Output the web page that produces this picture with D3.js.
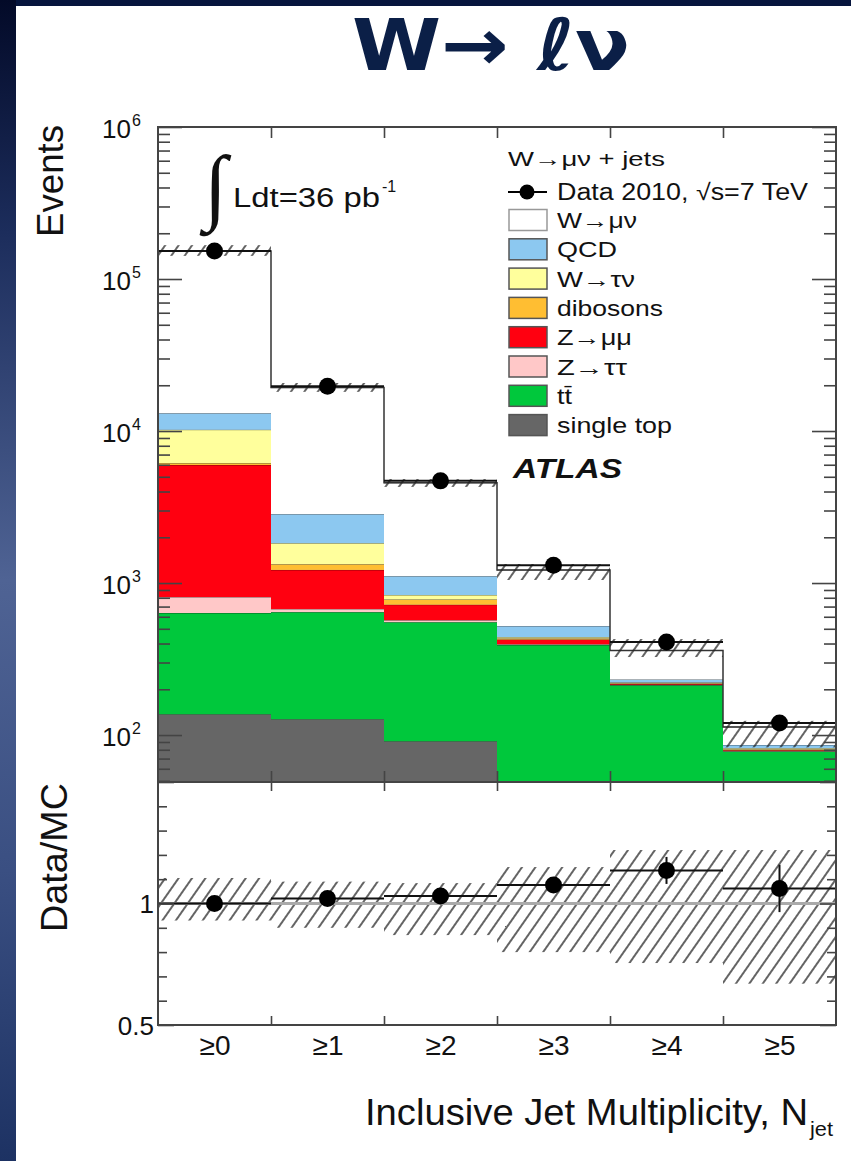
<!DOCTYPE html>
<html><head><meta charset="utf-8">
<script src="https://cdn.jsdelivr.net/npm/d3@7"></script>
<style>
body{margin:0;background:#fff;}
svg{display:block;}
text{font-family:"Liberation Sans",Arial,Helvetica,sans-serif;fill:#111;}
</style>
</head><body>
<svg id="c" width="851" height="1161"></svg>
<script>
// ---------------- data ----------------
const categories = ["≥0","≥1","≥2","≥3","≥4","≥5"];
const seriesKeys = ["singleTop","ttbar","zTauTau","zMuMu","dibosons","wTauNu","qcd","wMuNu"];
const singleTop = [137,127,91,40,20,8];
const ttbar     = [498,517,462,351,193,70];
const zTauTau   = [174,31,17,5,1,0.5];
const zMuMu     = [5171,545,150,29,3,1];
const dibosons  = [170,110,60,7,2,1];
const wTauNu    = [4050,500,54,9,3,1.5];
const qcd       = [2900,1010,276,80,10,4];
const wMuNu     = [139900,16460,3450,696,128,27];
const dataValues = [153000,19700,4700,1310,409,120];
const dataErrors = [390,140,69,36,20,11];
const bandUpLo = [142000,18100,4290,1047,326,83];
const bandUpHi = [167000,20700,4830,1334,428,124];
const ratioBandLo = [0.93,0.90,0.87,0.80,0.755,0.67];
const ratioBandHi = [1.105,1.09,1.084,1.15,1.22,1.22];
const yMajorExp = [2,3,4,5,6];
const ratioLabels = [0.5,1];
const legendLabels = ["W→μν","QCD","W→τν","dibosons","Z→μμ","Z→ττ","tt̄","single top"];
const legendKeys   = ["wMuNu","qcd","wTauNu","dibosons","zMuMu","zTauTau","ttbar","singleTop"];
const colors = {singleTop:"#666666",ttbar:"#00c83c",zTauTau:"#ffc8c8",zMuMu:"#ff0010",
  dibosons:"#ffbe32",wTauNu:"#ffff9c",qcd:"#8cc8f0",wMuNu:"#ffffff"};

// ---------------- layout ----------------
const svg = d3.select("#c");
const L = 158, R = 836, T = 127, M = 782, B = 1025;
const yMin = 49.1, yMax = 1e6;
const x = d3.scaleLinear().domain([0,6]).range([L,R]);
const y = d3.scaleLog().domain([yMin,yMax]).range([M,T]);
const yr = d3.scaleLinear().domain([0.5,1.5]).range([B,M]);
const yc = v => y(Math.max(v,yMin));

// background
const defs = svg.append("defs");
const grad = defs.append("linearGradient").attr("id","lg").attr("x1",0).attr("y1",0).attr("x2",0).attr("y2",1);
[[0,"#030a28"],[0.2,"#1c2d5c"],[0.5,"#4f6394"],[0.75,"#3a4f82"],[1,"#1d3263"]].forEach(s=>grad.append("stop").attr("offset",s[0]).attr("stop-color",s[1]));
svg.append("rect").attr("width",851).attr("height",1161).attr("fill","#fff");
svg.append("rect").attr("width",851).attr("height",6).attr("fill","#06153d");
svg.append("rect").attr("width",16).attr("height",1161).attr("fill","url(#lg)");

// hatch
const pat = defs.append("pattern").attr("id","hatch").attr("patternUnits","userSpaceOnUse")
  .attr("width",11).attr("height",11).attr("patternTransform","rotate(35)");
pat.append("line").attr("x1",1).attr("y1",0).attr("x2",1).attr("y2",11).attr("stroke","#222").attr("stroke-width",1.4);
defs.append("clipPath").attr("id","clipU").append("rect").attr("x",L).attr("y",T).attr("width",R-L).attr("height",M-T);
defs.append("clipPath").attr("id","clipR").append("rect").attr("x",L).attr("y",M).attr("width",R-L).attr("height",B-M);

// title
svg.append("text").attr("x",352).attr("y",70).attr("font-size",72).attr("font-weight","bold")
  .attr("textLength",278).attr("lengthAdjust","spacingAndGlyphs")
  .style("font-family","'DejaVu Sans',sans-serif").style("fill","#0b1f47").text("W→ ℓν");

// ---------------- upper panel ----------------
const rows = categories.map((c,i)=>({cat:i,singleTop:singleTop[i],ttbar:ttbar[i],zTauTau:zTauTau[i],zMuMu:zMuMu[i],
  dibosons:dibosons[i],wTauNu:wTauNu[i],qcd:qcd[i],wMuNu:wMuNu[i]}));
const stack = d3.stack().keys(seriesKeys)(rows);
const gU = svg.append("g").attr("clip-path","url(#clipU)");
stack.forEach(layer=>{
  gU.selectAll(null).data(layer).enter().append("rect")
    .attr("x",d=>x(d.data.cat)).attr("width",x(1)-x(0))
    .attr("y",d=>yc(d[1])).attr("height",d=>yc(d[0])-yc(d[1]))
    .attr("fill",colors[layer.key]);
  gU.selectAll(null).data(layer).enter().append("line")
    .attr("x1",d=>x(d.data.cat)).attr("x2",d=>x(d.data.cat+1))
    .attr("y1",d=>yc(d[1])).attr("y2",d=>yc(d[1]))
    .attr("stroke","rgba(0,0,0,0.55)").attr("stroke-width",1);
});
// total MC outline (step)
const totals = stack[stack.length-1].map(d=>d[1]);
const stepPts = [];
totals.forEach((t,i)=>{stepPts.push([x(i),yc(t)]);stepPts.push([x(i+1),yc(t)]);});
gU.append("path").attr("d","M"+x(0)+","+M+"L"+stepPts.map(p=>p.join(",")).join("L")+"L"+x(6)+","+M)
  .attr("fill","none").attr("stroke","#333").attr("stroke-width",1.5);
// uncertainty band
gU.selectAll(null).data(categories).enter().append("rect")
  .attr("x",(d,i)=>x(i)).attr("width",x(1)-x(0))
  .attr("y",(d,i)=>y(bandUpHi[i])).attr("height",(d,i)=>y(bandUpLo[i])-y(bandUpHi[i]))
  .attr("fill","url(#hatch)");
// data
gU.selectAll(null).data(dataValues).enter().append("line")
  .attr("x1",(d,i)=>x(i)).attr("x2",(d,i)=>x(i+1)).attr("y1",d=>y(d)).attr("y2",d=>y(d))
  .attr("stroke","#111").attr("stroke-width",2);
gU.selectAll(null).data(dataValues).enter().append("line")
  .attr("x1",(d,i)=>x(i+0.5)).attr("x2",(d,i)=>x(i+0.5))
  .attr("y1",(d,i)=>y(d+dataErrors[i])).attr("y2",(d,i)=>y(d-dataErrors[i]))
  .attr("stroke","#111").attr("stroke-width",2);
gU.selectAll(null).data(dataValues).enter().append("circle")
  .attr("cx",(d,i)=>x(i+0.5)).attr("cy",d=>y(d)).attr("r",8.5).attr("fill","#000");

// ---------------- ratio panel ----------------
const gR = svg.append("g").attr("clip-path","url(#clipR)");
gR.selectAll(null).data(categories).enter().append("rect")
  .attr("x",(d,i)=>x(i)).attr("width",x(1)-x(0))
  .attr("y",(d,i)=>yr(ratioBandHi[i])).attr("height",(d,i)=>yr(ratioBandLo[i])-yr(ratioBandHi[i]))
  .attr("fill","url(#hatch)");
gR.append("line").attr("x1",L).attr("x2",R).attr("y1",yr(1)).attr("y2",yr(1))
  .attr("stroke","#aaa").attr("stroke-width",3);
const ratios = dataValues.map((d,i)=>d/totals[i]);
const ratioErr = dataErrors.map((e,i)=>e/totals[i]);
gR.selectAll(null).data(ratios).enter().append("line")
  .attr("x1",(d,i)=>x(i)).attr("x2",(d,i)=>x(i+1)).attr("y1",d=>yr(d)).attr("y2",d=>yr(d))
  .attr("stroke","#111").attr("stroke-width",2);
gR.selectAll(null).data(ratios).enter().append("line")
  .attr("x1",(d,i)=>x(i+0.5)).attr("x2",(d,i)=>x(i+0.5))
  .attr("y1",(d,i)=>yr(d+ratioErr[i])).attr("y2",(d,i)=>yr(d-ratioErr[i]))
  .attr("stroke","#111").attr("stroke-width",2);
gR.selectAll(null).data(ratios).enter().append("circle")
  .attr("cx",(d,i)=>x(i+0.5)).attr("cy",d=>yr(d)).attr("r",8.5).attr("fill","#000");

// ---------------- axes ----------------
const majors = yMajorExp.map(e=>Math.pow(10,e));
const minors = [];
for (let e=1;e<=5;e++) for (let m=2;m<=9;m++){const v=m*Math.pow(10,e); if(v>=yMin&&v<=yMax) minors.push(v);}
function styleAxis(g){g.select(".domain").remove(); g.selectAll(".tick line").attr("stroke","#444").attr("stroke-width",1.6);}
svg.append("g").attr("transform",`translate(${L},0)`).call(d3.axisRight(y).tickValues(minors).tickSize(12).tickFormat("")).call(styleAxis);
svg.append("g").attr("transform",`translate(${L},0)`).call(d3.axisRight(y).tickValues(majors).tickSize(24).tickFormat("")).call(styleAxis);
svg.append("g").attr("transform",`translate(${R},0)`).call(d3.axisLeft(y).tickValues(minors).tickSize(12).tickFormat("")).call(styleAxis);
svg.append("g").attr("transform",`translate(${R},0)`).call(d3.axisLeft(y).tickValues(majors).tickSize(24).tickFormat("")).call(styleAxis);
const edges = [1,2,3,4,5];
svg.append("g").attr("transform",`translate(0,${T})`).call(d3.axisBottom(x).tickValues(edges).tickSize(11).tickFormat("")).call(styleAxis);
svg.append("g").attr("transform",`translate(0,${M})`).call(d3.axisTop(x).tickValues(edges).tickSize(11).tickFormat("")).call(styleAxis);
svg.append("g").attr("transform",`translate(0,${M})`).call(d3.axisBottom(x).tickValues(edges).tickSize(9).tickFormat("")).call(styleAxis);
svg.append("g").attr("transform",`translate(0,${B})`).call(d3.axisTop(x).tickValues(edges).tickSize(9).tickFormat("")).call(styleAxis);
const rMinor = d3.range(6,15).map(v=>v/10).filter(v=>v!==1);
const rMajor = [0.5,1,1.5];
svg.append("g").attr("transform",`translate(${L},0)`).call(d3.axisRight(yr).tickValues(rMinor).tickSize(9).tickFormat("")).call(styleAxis);
svg.append("g").attr("transform",`translate(${L},0)`).call(d3.axisRight(yr).tickValues(rMajor).tickSize(16).tickFormat("")).call(styleAxis);
svg.append("g").attr("transform",`translate(${R},0)`).call(d3.axisLeft(yr).tickValues(rMinor).tickSize(9).tickFormat("")).call(styleAxis);
svg.append("g").attr("transform",`translate(${R},0)`).call(d3.axisLeft(yr).tickValues(rMajor).tickSize(16).tickFormat("")).call(styleAxis);

// frames
svg.append("rect").attr("x",L).attr("y",T).attr("width",R-L).attr("height",M-T).attr("fill","none").attr("stroke","#444").attr("stroke-width",2);
svg.append("rect").attr("x",L).attr("y",M).attr("width",R-L).attr("height",B-M).attr("fill","none").attr("stroke","#444").attr("stroke-width",2);

// y labels (upper)
yMajorExp.forEach(e=>{
  const t = svg.append("text").attr("y",y(Math.pow(10,e))+11).attr("font-size",26);
  t.append("tspan").attr("x",131).attr("text-anchor","end").text("10");
  t.append("tspan").attr("x",132).attr("dy",-12).attr("font-size",16).text(String(e));
});
// ratio labels
svg.append("g").attr("transform",`translate(${L-3},0)`)
  .call(d3.axisLeft(yr).tickValues(ratioLabels).tickSize(0).tickPadding(1).tickFormat(d=>d===1?"1":"0.5"))
  .call(g=>{g.select(".domain").remove(); g.selectAll("text").attr("font-size",26).attr("dy","0.36em").style("font-family","'Liberation Sans',Arial,sans-serif");});
// x labels
svg.append("g").attr("transform",`translate(0,${B})`)
  .call(d3.axisBottom(x).tickValues(d3.range(6).map(i=>i+0.5)).tickSize(0).tickPadding(10).tickFormat((d,i)=>categories[i]))
  .call(g=>{g.select(".domain").remove(); g.selectAll("text").attr("font-size",28).attr("fill","#222").style("font-family","'Liberation Sans',Arial,sans-serif");});

// axis titles
svg.append("text").attr("transform","translate(63,237) rotate(-90)").attr("font-size",36)
  .attr("textLength",112).attr("lengthAdjust","spacingAndGlyphs").text("Events");
svg.append("text").attr("transform","translate(67,932) rotate(-90)").attr("font-size",37)
  .attr("textLength",149).attr("lengthAdjust","spacingAndGlyphs").text("Data/MC");
const xt = svg.append("text").attr("y",1125).attr("font-size",37);
xt.append("tspan").attr("x",365).attr("textLength",443).attr("lengthAdjust","spacingAndGlyphs").text("Inclusive Jet Multiplicity, N");
xt.append("tspan").attr("x",810).attr("y",1136).attr("font-size",21).attr("textLength",23).attr("lengthAdjust","spacingAndGlyphs").text("jet");

// luminosity
svg.append("text").attr("x",204).attr("y",214).attr("font-size",84).style("font-family","'Liberation Serif',serif").text("∫");
const lum = svg.append("text").attr("y",207).attr("font-size",27);
lum.append("tspan").attr("x",233).attr("textLength",147).attr("lengthAdjust","spacingAndGlyphs").text("Ldt=36 pb");
lum.append("tspan").attr("x",382).attr("y",192).attr("font-size",16).text("-1");

// legend
svg.append("text").attr("x",508).attr("y",166).attr("font-size",20).attr("textLength",157).attr("lengthAdjust","spacingAndGlyphs").text("W→μν + jets");
svg.append("line").attr("x1",508).attr("x2",547).attr("y1",192).attr("y2",192).attr("stroke","#000").attr("stroke-width",2);
svg.append("circle").attr("cx",527).attr("cy",192).attr("r",7.5).attr("fill","#000");
svg.append("text").attr("x",557).attr("y",200).attr("font-size",23).attr("textLength",251).attr("lengthAdjust","spacingAndGlyphs").text("Data 2010, √s=7 TeV");
const legW = [80,60,78,106,75,70,15,115];
legendKeys.forEach((k,i)=>{
  const cy = 220 + i*29.3;
  svg.append("rect").attr("x",509).attr("y",cy-10.5).attr("width",38).attr("height",21)
    .attr("fill",colors[k]).attr("stroke",k==="wMuNu"?"#999":"#555").attr("stroke-width",1.5);
  svg.append("text").attr("x",557).attr("y",cy+8).attr("font-size",22)
    .attr("textLength",legW[i]).attr("lengthAdjust","spacingAndGlyphs").text(legendLabels[i]);
});
svg.append("text").attr("x",513).attr("y",478).attr("font-size",27).attr("font-weight","bold").attr("font-style","italic")
  .attr("textLength",109).attr("lengthAdjust","spacingAndGlyphs").text("ATLAS");
</script>
</body></html>
